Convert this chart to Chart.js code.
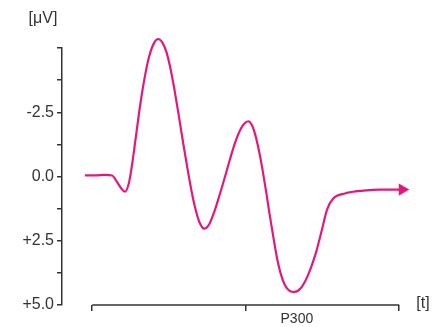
<!DOCTYPE html>
<html>
<head>
<meta charset="utf-8">
<script src="https://cdn.jsdelivr.net/npm/chart.js@4.4.1/dist/chart.umd.min.js"></script>
<style>
  html, body { margin: 0; padding: 0; background: #ffffff; }
  canvas { display: block; }
</style>
</head>
<body>
<canvas id="erp" width="433" height="327"></canvas>
<script>
// ERP waveform (negative up), time in ms, amplitude in microvolts.
const timeMs = [-14, 6, 25, 39, 49, 57, 64, 72, 78, 86, 94, 102, 111, 121, 129,
  137, 145, 153, 161, 169, 177, 185, 193, 201, 209, 219,
  229, 239, 249, 259, 269, 279, 289, 297, 305,
  312, 319, 326, 333, 340, 347, 354, 361, 368, 376, 386, 395,
  408, 422, 436, 448, 459, 471, 494, 530, 563, 596, 606];
const microVolts = [-0.04, -0.04, -0.06, -0.04, 0.23, 0.47, 0.59, 0.23, -0.47, -1.64, -2.81, -3.79, -4.65, -5.20, -5.35,
  -5.22, -4.85, -4.20, -3.35, -2.40, -1.40, -0.45, 0.45, 1.20, 1.75, 2.03,
  1.85, 1.35, 0.72, 0.05, -0.65, -1.30, -1.80, -2.05, -2.15,
  -2.00, -1.60, -1.00, -0.25, 0.60, 1.50, 2.35, 3.15, 3.75, 4.20, 4.45, 4.49,
  4.34, 3.83, 3.05, 2.15, 1.29, 0.86, 0.66, 0.55, 0.51, 0.51, 0.51];

const xTicks = [0, 300, 400, 600];
const xTickLabels = ['', '', 'P300', ''];
const yLabelled = [-2.5, 0, 2.5, 5];

const X_MIN = -59;
const X_MAX = 627;
const INK = '#333333';
const WAVE = '#e3187f';
const FONT = '"Liberation Sans", Arial, sans-serif';

const points = timeMs.map((t, i) => ({ x: t, y: microVolts[i] }));
const last = points.length - 1;

// x axis line only spans the first to last tick, plus the unit captions
const extras = {
  id: 'extras',
  afterDraw(chart) {
    const { ctx, scales, chartArea } = chart;
    const x = scales.x;
    ctx.save();
    ctx.strokeStyle = INK;
    ctx.lineWidth = 1.5;
    ctx.beginPath();
    ctx.moveTo(x.getPixelForValue(xTicks[0]), chartArea.bottom);
    ctx.lineTo(x.getPixelForValue(xTicks[xTicks.length - 1]), chartArea.bottom);
    ctx.stroke();

    ctx.fillStyle = INK;
    ctx.font = '16px ' + FONT;
    ctx.textAlign = 'center';
    ctx.textBaseline = 'middle';
    ctx.fillText('[\u03bcV]', 43, 19);
    ctx.fillText('[t]', 423, 304);
    ctx.restore();
  }
};

new Chart(document.getElementById('erp'), {
  type: 'line',
  data: {
    datasets: [{
      data: points,
      borderColor: WAVE,
      backgroundColor: WAVE,
      borderWidth: 2.2,
      cubicInterpolationMode: 'monotone',
      clip: false,
      pointRadius: (c) => (c.dataIndex === last ? 7 : 0),
      pointStyle: 'triangle',
      rotation: 90,
      pointBorderWidth: 0
    }]
  },
  options: {
    responsive: false,
    animation: false,
    layout: { padding: { top: 48, right: 20, left: 0, bottom: 0 } },
    plugins: { legend: { display: false }, tooltip: { enabled: false } },
    scales: {
      x: {
        type: 'linear',
        min: X_MIN,
        max: X_MAX,
        afterFit: (s) => { s.height = 22; },
        afterBuildTicks: (s) => { s.ticks = xTicks.map((v) => ({ value: v })); },
        border: { display: false },
        grid: {
          drawOnChartArea: false,
          tickLength: 6,
          lineWidth: 1.5,
          color: (c) => (c.tick && c.tick.value === 400 ? 'rgba(0,0,0,0)' : INK)
        },
        ticks: {
          padding: 0,
          color: INK,
          font: { family: FONT, size: 14 },
          maxRotation: 0,
          autoSkip: false,
          callback: (v) => { const i = xTicks.indexOf(v); return i >= 0 ? xTickLabels[i] : ''; }
        }
      },
      y: {
        type: 'linear',
        reverse: true,
        min: -5,
        max: 5,
        afterFit: (s) => { s.width = 62; },
        border: { display: true, color: INK, width: 1.5 },
        grid: { drawOnChartArea: false, tickLength: 5, lineWidth: 1.5, color: INK },
        ticks: {
          stepSize: 1.25,
          padding: 3,
          color: INK,
          font: { family: FONT, size: 16 },
          callback: (v) => {
            if (!yLabelled.includes(v)) return '';
            if (v === 0) return '0.0';
            return (v > 0 ? '+' : '') + v.toFixed(1);
          }
        }
      }
    }
  },
  plugins: [extras]
});
</script>
</body>
</html>
